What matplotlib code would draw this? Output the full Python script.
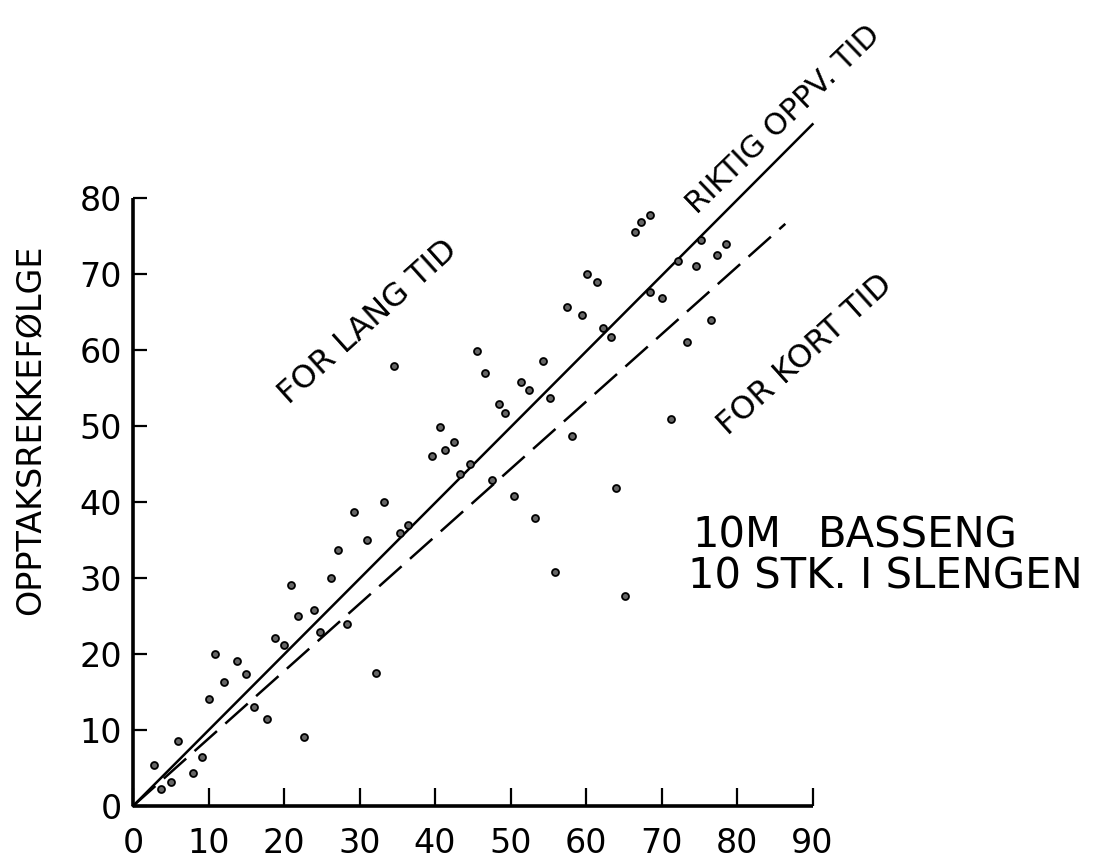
import matplotlib
matplotlib.use("Agg")
import matplotlib.pyplot as plt

# ---- data ----
pts_x = [2.8, 3.7, 5.0, 5.9, 8.0, 9.1, 10.1, 12.0, 10.9, 13.8, 15.0, 16.0, 17.7, 22.6,
         18.8, 20.0, 20.9, 21.9, 24.0, 24.8, 28.3, 26.2, 27.2, 29.3, 31.0, 33.2, 32.2,
         35.4, 36.4, 34.6, 39.6, 40.7, 41.3, 42.5, 43.3, 44.6, 45.5, 46.6, 47.5, 48.5,
         49.3, 50.5, 51.4, 52.5, 53.2, 54.3, 55.2, 55.9, 57.5, 58.1, 59.5, 60.1, 61.5,
         62.3, 63.3, 64.0, 65.2, 66.5, 67.3, 68.5, 68.5, 70.0, 71.3, 72.2, 73.4, 74.6,
         75.2, 76.6, 77.4, 78.5]
pts_y = [5.4, 2.3, 3.2, 8.5, 4.3, 6.5, 14.1, 16.3, 20.0, 19.1, 17.4, 13.0, 11.4, 9.1,
         22.1, 21.2, 29.1, 25.0, 25.8, 22.9, 24.0, 30.0, 33.7, 38.7, 35.0, 40.0, 17.5,
         35.9, 37.0, 57.9, 46.1, 49.9, 46.8, 47.9, 43.7, 45.0, 59.9, 57.0, 42.9, 52.9,
         51.7, 40.8, 55.8, 54.7, 37.9, 58.5, 53.7, 30.8, 65.7, 48.7, 64.6, 70.0, 69.0,
         62.9, 61.7, 41.8, 27.6, 75.5, 76.8, 77.8, 67.6, 66.9, 50.9, 71.7, 61.0, 71.0,
         74.5, 63.9, 72.5, 74.0]

riktig_x = [0, 90]
riktig_y = [0, 89.7]
kort_x = [0, 86.4]
kort_y = [0, 76.6]

x_ticks = [0, 10, 20, 30, 40, 50, 60, 70, 80, 90]
y_ticks = [0, 10, 20, 30, 40, 50, 60, 70, 80]

ylabel = "OPPTAKSREKKEFØLGE"
lbl_lang = "FOR LANG TID"
lbl_riktig = "RIKTIG OPPV. TID"
lbl_kort = "FOR KORT TID"
note1a = "10M"
note1b = "BASSENG"
note2 = "10 STK. I SLENGEN"

plt.rcParams['font.family'] = ['DejaVu Sans']

W, H = 1100, 863
fig = plt.figure(figsize=(W / 100, H / 100), dpi=100)
fig.patch.set_facecolor("white")

x0px, y0px = 133, 806
sx, sy = 7.55, 7.6
ax = fig.add_axes([x0px / W, (H - y0px) / H, (W - x0px) / W, y0px / H])
ax.set_xlim(0, (W - x0px) / sx)
ax.set_ylim(0, y0px / sy)
ax.patch.set_alpha(0)

for s in ["top", "right"]:
    ax.spines[s].set_visible(False)
ax.spines["left"].set_bounds(0, 80)
ax.spines["bottom"].set_bounds(0, 90)
for s in ["left", "bottom"]:
    ax.spines[s].set_linewidth(2.6)
    ax.spines[s].set_capstyle("butt")

ax.set_xticks(x_ticks)
ax.set_yticks(y_ticks)
ax.set_xticklabels([str(v) for v in x_ticks])
ax.set_yticklabels([str(v) for v in y_ticks])
ax.tick_params(axis="both", direction="in", width=1.6, labelsize=24,
               colors="black")
ax.tick_params(axis="x", pad=15, length=13)
ax.tick_params(axis="y", pad=8, length=10)

ax.plot(riktig_x, riktig_y, color="black", lw=1.8, clip_on=False, zorder=3)
ax.plot(kort_x, kort_y, color="black", lw=1.8, dashes=(12, 4.5), clip_on=False, zorder=3)

ax.plot(pts_x, pts_y, linestyle="none", marker="o", ms=5, mfc="#666666",
        mec="black", mew=1.3, zorder=4, clip_on=False)

def dx(px):
    return (px - x0px) / sx

def dy(py):
    return (y0px - py) / sy

ax.text(dx(368), dy(322), lbl_lang, rotation=42, ha="center", va="center",
        fontsize=23, rotation_mode="anchor")
ax.text(dx(783), dy(120), lbl_riktig, rotation=44, ha="center", va="center",
        fontsize=22, rotation_mode="anchor")
ax.text(dx(805), dy(355), lbl_kort, rotation=42, ha="center", va="center",
        fontsize=23, rotation_mode="anchor")

ax.text(dx(692), dy(547), note1a, ha="left", va="baseline", fontsize=30)
ax.text(dx(818), dy(547), note1b, ha="left", va="baseline", fontsize=30)
ax.text(dx(688), dy(588), note2, ha="left", va="baseline", fontsize=30)

fig.text(31 / W, 1 - 430 / H, ylabel, rotation=90, ha="center", va="center",
         fontsize=24)

fig.savefig("out.png", dpi=100, facecolor="white")
